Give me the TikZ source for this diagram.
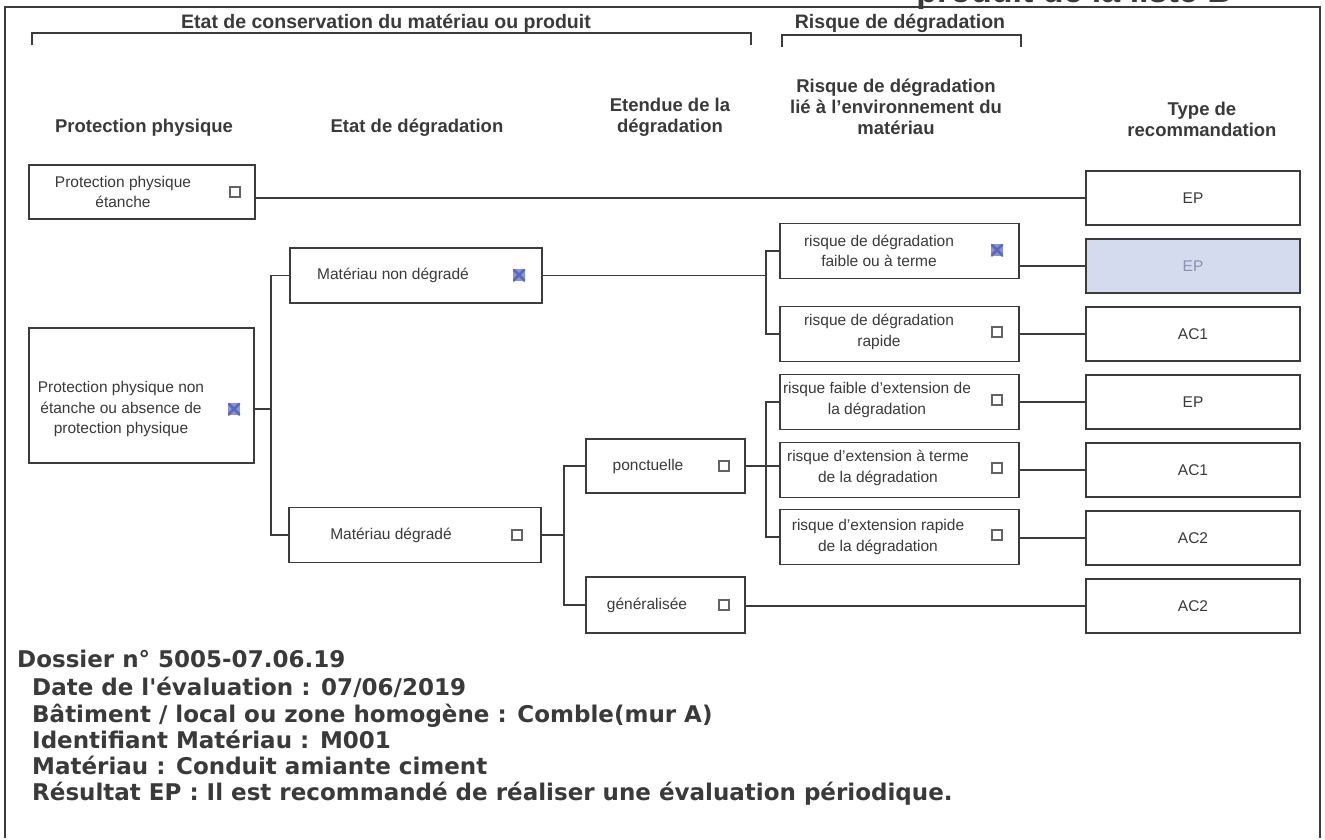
\documentclass[tikz,border=0pt]{standalone}
\usepackage{fontspec}
\setmainfont{Liberation Sans}
\newfontfamily\verd{DejaVu Sans}
\definecolor{linec}{HTML}{3C3C3C}
\definecolor{txtc}{HTML}{3A3A3A}
\definecolor{shadec}{HTML}{D5DBEF}
\definecolor{shtxt}{HTML}{8A91B2}
\definecolor{markc}{HTML}{5A68C0}
\tikzset{
  frameline/.style={draw=linec, line width=1.3pt},
  conn/.style={draw=linec, line width=1.8pt},
  box/.style={draw=linec, line width=1.8pt, fill=white, inner sep=0pt},
  btext/.style={font=\fontsize{15.5}{20.5}\selectfont, text=txtc, align=center, inner sep=0pt},
  rtext/.style={font=\fontsize{15.5}{20.5}\selectfont, text=txtc, inner sep=0pt},
  htext/.style={font=\fontsize{18.5}{21}\selectfont\bfseries, text=txtc, align=center, inner sep=0pt},
  btitle/.style={font=\fontsize{19.5}{21}\selectfont\bfseries, text=txtc, inner sep=0pt},
  cbox/.style={draw=linec!80, line width=1.1pt, minimum size=10pt, inner sep=0pt, fill=white},
  cmark/.style={fill=markc!70, minimum size=12pt, inner sep=0pt,
    path picture={\draw[markc, line width=2.6pt]
      (path picture bounding box.north west) -- (path picture bounding box.south east)
      (path picture bounding box.north east) -- (path picture bounding box.south west);}},
  info/.style={font=\verd\fontsize{23}{26}\selectfont\bfseries, text=txtc, anchor=base west, inner sep=0pt},
  rec/.style={box, minimum width=214pt, minimum height=54pt, font=\fontsize{15.5}{20}\selectfont, text=txtc},
  rbox/.style={box, minimum width=239pt, minimum height=55pt},
}
\begin{document}
\begin{tikzpicture}[x=1pt, y=-1pt]
\useasboundingbox (0,0) rectangle (1325,839);
\fill[white] (0,0) rectangle (1325,839);

% cut-off title at the top
\node[anchor=base east, font=\fontsize{34}{34}\selectfont\bfseries, text=txtc, inner sep=0pt] (ttl) at (1232,2) {produit de la liste B};

% frame
\draw[frameline] (5,838) -- (5,7) -- (1320,7) -- (1320,838);

% group titles and brackets
\node[btitle] (g1) at (386,23) {Etat de conservation du matériau ou produit};
\node[btitle] (g2) at (900,23) {Risque de dégradation};
\draw[frameline] (32,45) -- (32,33) -- (751,33) -- (751,45);
\draw[frameline] (782,47) -- (782,35) -- (1021,35) -- (1021,47);

% column headers
\node[htext] (h1) at (144,128) {Protection physique};
\node[htext] (h2) at (417,128) {Etat de dégradation};
\node[htext] (h3) at (670,117.5) {Etendue de la\\dégradation};
\node[htext] (h4) at (896,107) {Risque de dégradation\\lié à l'environnement du\\matériau};
\node[htext] (h5) at (1202,119.5) {Type de\\recommandation};

% physical protection
\node[box, minimum width=226pt, minimum height=54pt] (ppe) at (142,192) {};
\node[btext] (ppet) at (123,192) {Protection physique\\étanche};
\node[cbox] (ppec) at (235,192) {};

\node[box, minimum width=225pt, minimum height=135pt] (ppn) at (141.5,395.5) {};
\node[btext] (ppnt) at (121,409) {Protection physique non\\étanche ou absence de\\protection physique};
\node[cmark] (ppnc) at (234,409) {};

% state of degradation
\node[box, minimum width=252pt, minimum height=55pt] (mnd) at (416,275.5) {};
\node[rtext] (mndt) at (393,275) {Matériau non dégradé};
\node[cmark] (mndc) at (519,275) {};

\node[box, minimum width=252pt, minimum height=55pt] (md) at (415,535) {};
\node[rtext] (mdt) at (391,535) {Matériau dégradé};
\node[cbox] (mdc) at (517,535) {};

% extent
\node[box, minimum width=159pt, minimum height=54pt] (pon) at (665.5,466) {};
\node[rtext] (pont) at (648,466) {ponctuelle};
\node[cbox] (ponc) at (724,466) {};

\node[box, minimum width=159pt, minimum height=56pt] (gen) at (665.5,605) {};
\node[rtext] (gent) at (647,605) {généralisée};
\node[cbox] (genc) at (724,605) {};

% risk boxes
\node[rbox] (r1) at (899.5,251) {};
\node[btext] (r1t) at (879,251) {risque de dégradation\\faible ou à terme};
\node[cmark] (r1c) at (997,250) {};

\node[rbox] (r2) at (899.5,334) {};
\node[btext] (r2t) at (879,332) {risque de dégradation\\rapide};
\node[cbox] (r2c) at (997,332) {};

\node[rbox] (r3) at (899.5,402) {};
\node[btext] (r3t) at (877,400) {risque faible d'extension de\\la dégradation};
\node[cbox] (r3c) at (997,400) {};

\node[rbox] (r4) at (899.5,470) {};
\node[btext] (r4t) at (878,468) {risque d'extension à terme\\de la dégradation};
\node[cbox] (r4c) at (997,468) {};

\node[rbox] (r5) at (899.5,537) {};
\node[btext] (r5t) at (878,537) {risque d'extension rapide\\de la dégradation};
\node[cbox] (r5c) at (997,535) {};

% recommendation boxes
\node[rec] (t1) at (1193,198) {EP};
\node[rec, fill=shadec, text=shtxt] (t2) at (1193,266) {EP};
\node[rec] (t3) at (1193,334) {AC1};
\node[rec] (t4) at (1193,402) {EP};
\node[rec] (t5) at (1193,470) {AC1};
\node[rec] (t6) at (1193,538) {AC2};
\node[rec] (t7) at (1193,606) {AC2};

% junction points
\coordinate (j1) at (271,409);
\coordinate (j2) at (766,275.5);
\coordinate (j3) at (564,535);
\coordinate (j4) at (766,466);

% connectors
\draw[conn] (ppe.east |- t1.west) -- (t1.west);
\draw[conn] (ppn.east |- j1) -- (j1);
\draw[conn] (mnd.west) -| (j1) |- (md.west);
\draw[conn] (mnd.east) -- (j2);
\draw[conn] (r1.west) -| (j2) |- (r2.west);
\draw[conn] (md.east) -- (j3);
\draw[conn] (pon.west) -| (j3) |- (gen.west);
\draw[conn] (pon.east) -- (j4) -- (j4 -| r4.west);
\draw[conn] (r3.west) -| (j4) |- (r5.west);
\draw[conn] (r1.east |- t2.west) -- (t2.west);
\draw[conn] (r2.east |- t3.west) -- (t3.west);
\draw[conn] (r3.east |- t4.west) -- (t4.west);
\draw[conn] (r4.east |- t5.west) -- (t5.west);
\draw[conn] (r5.east |- t6.west) -- (t6.west);
\draw[conn] (gen.east |- t7.west) -- (t7.west);

% information block
\node[info] (i1) at (17,667) {Dossier n° 5005-07.06.19};
\node[info] (i2) at (32,695) {Date de l'évaluation : 07/06/2019};
\node[info] (i3) at (32,722) {Bâtiment / local ou zone homogène : Comble(mur A)};
\node[info] (i4) at (32,748) {Identifiant Matériau : M001};
\node[info] (i5) at (32,774) {Matériau : Conduit amiante ciment};
\node[info] (i6) at (32,800) {Résultat EP : Il est recommandé de réaliser une évaluation périodique.};
\end{tikzpicture}
\end{document}
